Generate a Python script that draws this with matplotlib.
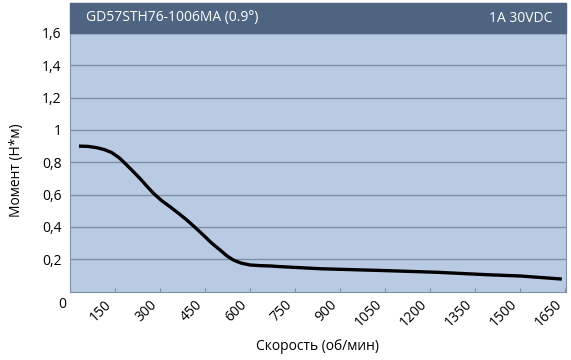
import matplotlib.pyplot as plt
from matplotlib.patches import Rectangle
from matplotlib.transforms import ScaledTranslation

plt.rcParams['font.family'] = ['Open Sans', 'DejaVu Sans']

# curve
speed = [30, 60, 90, 115, 139, 165, 189, 211, 233, 256, 278, 305, 333, 361,
         389, 416, 444, 472, 500, 522, 544, 570, 600, 635, 667, 700, 833,
         1056, 1222, 1389, 1500, 1639]
torque = [0.90, 0.898, 0.89, 0.878, 0.86, 0.826, 0.783, 0.742, 0.70, 0.652,
          0.608, 0.563, 0.525, 0.485, 0.443, 0.398, 0.35, 0.30, 0.257, 0.222,
          0.195, 0.176, 0.164, 0.160, 0.158, 0.154, 0.141, 0.129, 0.119,
          0.104, 0.096, 0.077]

x_ticks = [150, 300, 450, 600, 750, 900, 1050, 1200, 1350, 1500, 1650]
y_ticks = [0.2, 0.4, 0.6, 0.8, 1.0, 1.2, 1.4, 1.6]
y_labels = ['0,2', '0,4', '0,6', '0,8', '1', '1,2', '1,4', '1,6']

title_left = 'GD57STH76-1006MA (0.9°)'
title_right = '1A 30VDC'

fig = plt.figure(figsize=(5.71, 3.6), dpi=100)
ax = fig.add_axes([70/571, 1 - 291.5/360, 496/571, 258.5/360])
ax.set_facecolor('#B9CAE3')

ax.plot(speed, torque, color='black', lw=2.4, solid_capstyle='butt',
        solid_joinstyle='round')

ax.set_xlim(0, 1653)
ax.set_ylim(0, 1.6)
ax.set_xticks(x_ticks)
ax.set_xticklabels([str(t) for t in x_ticks], rotation=45, ha='right',
                   va='top', fontsize=10)
# nudge rotated labels a bit to the right like the original
shift = ScaledTranslation(3/100, 0, fig.dpi_scale_trans)
for lab in ax.get_xticklabels():
    lab.set_transform(lab.get_transform() + shift)
ax.set_yticks(y_ticks)
ax.set_yticklabels(y_labels, fontsize=10)
ax.tick_params(axis='x', direction='in', length=3, color='#8090A8', pad=4)
ax.tick_params(axis='y', length=0, pad=6)
ax.grid(axis='y', color='#7F8FA6', lw=1)
ax.set_axisbelow(True)
for s in ['left', 'bottom', 'right']:
    ax.spines[s].set_color('#7F8FA6')
ax.spines['top'].set_visible(False)

fig.text(62/571, 1 - 305/360, '0', ha='center', va='center', fontsize=10)
fig.text(317/571, 1 - 347/360, 'Скорость (об/мин)', ha='center',
         va='center', fontsize=10)
fig.text(17/571, 1 - 170/360, 'Момент (Н*м)', rotation=90, ha='center',
         va='center', fontsize=10)

# header band
fig.patches.append(Rectangle((70/571, 1 - 33/360), 496/571, 30/360,
                             transform=fig.transFigure, color='#4F6480'))
fig.text(86/571, 1 - 18/360, title_left, color='white', ha='left',
         va='center', fontsize=10)
fig.text(552/571, 1 - 18/360, title_right, color='white', ha='right',
         va='center', fontsize=10)

fig.savefig('out.png', dpi=100)
